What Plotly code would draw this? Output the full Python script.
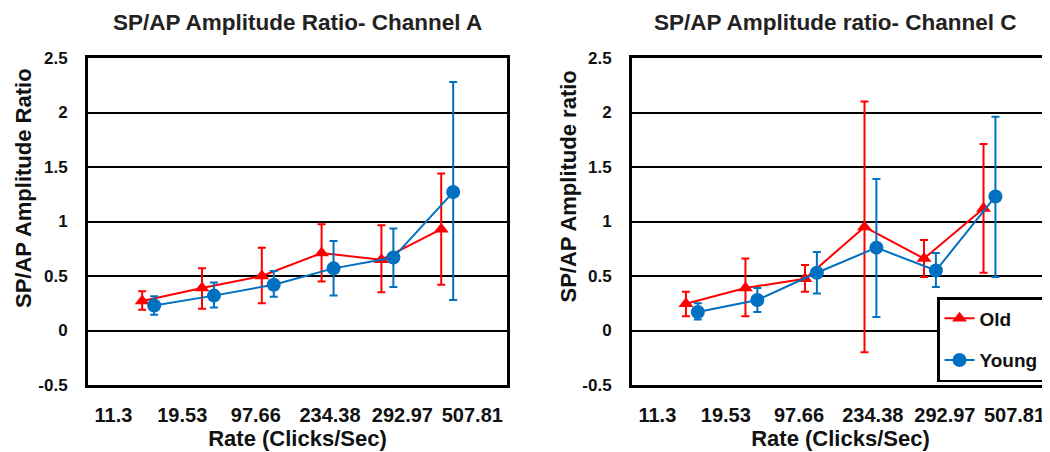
import plotly.graph_objects as go

# ---------------- data ----------------
rate_labels = ["11.3", "19.53", "97.66", "234.38", "292.97", "507.81"]
groups = ["Old", "Young"]

# Channel A
a_old = [0.27, 0.39, 0.50, 0.71, 0.65, 0.93]
a_old_hi = [0.36, 0.57, 0.76, 0.975, 0.965, 1.44]
a_old_lo = [0.19, 0.20, 0.25, 0.45, 0.35, 0.42]
a_young = [0.23, 0.32, 0.42, 0.57, 0.67, 1.27]
a_young_hi = [0.315, 0.44, 0.545, 0.82, 0.935, 2.28]
a_young_lo = [0.145, 0.21, 0.31, 0.32, 0.40, 0.28]

# Channel C
c_old = [0.245, 0.39, 0.475, 0.95, 0.66, 1.12]
c_old_hi = [0.355, 0.66, 0.60, 2.10, 0.83, 1.71]
c_old_lo = [0.13, 0.13, 0.355, -0.20, 0.49, 0.53]
c_young = [0.17, 0.28, 0.53, 0.76, 0.55, 1.23]
c_young_hi = [0.25, 0.39, 0.72, 1.39, 0.71, 1.96]
c_young_lo = [0.10, 0.17, 0.34, 0.125, 0.40, 0.49]

# ---------------- styling / layout constants ----------------
RED = "#ff0000"
BLUE = "#0070c0"
FONT = "Liberation Sans, Arial, sans-serif"
W, H, OFF = 1042, 444, 8   # page body margin of 8px


def PX(x):
    return (x - OFF) / W


def PY(y):
    return 1 - (y - OFF) / H


idx = list(range(1, len(rate_labels) + 1))
young_offset = 0.2
tick_pos = [0.52, 1.67, 2.90, 4.14, 5.35, 6.52]

fig = go.Figure()


def add_series(vals, hi, lo, color, symbol, name, xoff, xa, ya, showlegend):
    xs = [i + xoff for i in idx]
    fig.add_trace(go.Scatter(
        x=xs, y=vals, mode="lines+markers", name="<b>%s</b>" % name,
        legendgroup=name, showlegend=showlegend,
        line=dict(color=color, width=2),
        marker=dict(color=color, symbol=symbol, size=13 if symbol == "triangle-up" else 14),
        error_y=dict(type="data", symmetric=False,
                     array=[h - v for h, v in zip(hi, vals)],
                     arrayminus=[v - l for v, l in zip(vals, lo)],
                     color=color, thickness=2, width=4),
        xaxis=xa, yaxis=ya,
    ))


add_series(a_old, a_old_hi, a_old_lo, RED, "triangle-up", groups[0], 0, "x", "y", False)
add_series(a_young, a_young_hi, a_young_lo, BLUE, "circle", groups[1], young_offset, "x", "y", False)
add_series(c_old, c_old_hi, c_old_lo, RED, "triangle-up", groups[0], 0, "x2", "y2", True)
add_series(c_young, c_young_hi, c_young_lo, BLUE, "circle", groups[1], young_offset, "x2", "y2", True)

xcommon = dict(range=[0.094, 7.1], showgrid=False, zeroline=False, automargin=False,
               showline=True, linecolor="black", linewidth=3, mirror=True,
               tickvals=tick_pos, ticktext=["<b>%s</b>" % t for t in rate_labels], ticks="",
               ticklabelstandoff=10, ticklabeloverflow="allow",
               tickfont=dict(family=FONT, size=20, color="#111"),
               title=dict(text="<b>Rate (Clicks/Sec)</b>", standoff=4,
                          font=dict(family=FONT, size=22, color="#111")))
ycommon = dict(range=[-0.5, 2.5], showgrid=True, automargin=False,
               gridcolor="black", gridwidth=2, zeroline=False,
               showline=True, linecolor="black", linewidth=3, mirror=True,
               ticks="", ticklabelstandoff=14,
               tickvals=[-0.5, 0, 0.5, 1, 1.5, 2, 2.5],
               ticktext=["<b>-0.5</b>", "<b>0</b>", "<b>0.5</b>", "<b>1</b>",
                         "<b>1.5</b>", "<b>2</b>", "<b>2.5</b>"],
               tickfont=dict(family=FONT, size=17, color="#111"))

fig.update_layout(
    width=W, height=H,
    margin=dict(l=0, r=0, t=0, b=0, autoexpand=False),
    paper_bgcolor="white", plot_bgcolor="white",
    xaxis=dict(xcommon, domain=[PX(88), PX(507)], anchor="y"),
    yaxis=dict(ycommon, domain=[PY(385), PY(58)], anchor="x"),
    xaxis2=dict(xcommon, domain=[PX(632), PX(1049)], anchor="y2"),
    yaxis2=dict(ycommon, domain=[PY(385), PY(58)], anchor="x2"),
    showlegend=True,
    legend=dict(x=PX(937), xanchor="left", y=PY(382), yanchor="bottom",
                bgcolor="white", bordercolor="black", borderwidth=2.5,
                traceorder="grouped", tracegroupgap=14,
                font=dict(family=FONT, size=19, color="#111"),
                itemwidth=30, entrywidth=64),
    annotations=[
        dict(text="<b>SP/AP Amplitude Ratio- Channel A</b>", x=PX(297), y=PY(23),
             xref="paper", yref="paper", showarrow=False, xanchor="center", yanchor="middle",
             font=dict(family=FONT, size=22.5, color="#222")),
        dict(text="<b>SP/AP Amplitude ratio- Channel C</b>", x=PX(835), y=PY(22),
             xref="paper", yref="paper", showarrow=False, xanchor="center", yanchor="middle",
             font=dict(family=FONT, size=22.5, color="#222")),
        dict(text="<b>SP/AP Amplitude Ratio</b>", x=PX(23.5), y=PY(188.5), textangle=-90,
             xref="paper", yref="paper", showarrow=False, xanchor="center", yanchor="middle",
             font=dict(family=FONT, size=22, color="#111")),
        dict(text="<b>SP/AP Amplitude ratio</b>", x=PX(568), y=PY(186.5), textangle=-90,
             xref="paper", yref="paper", showarrow=False, xanchor="center", yanchor="middle",
             font=dict(family=FONT, size=22, color="#111")),
    ],
)

fig.write_html("out.html")
